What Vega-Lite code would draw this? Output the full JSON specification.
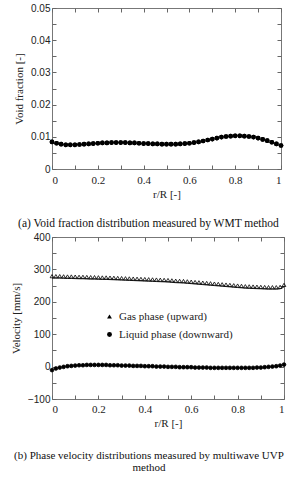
{
  "$schema": "https://vega.github.io/schema/vega-lite/v6.json",
  "padding": {"top": 2, "left": 9, "right": 5, "bottom": 2},
  "spacing": 1,
  "background": "white",
  "config": {
    "view": {"stroke": "#777", "strokeWidth": 1},
    "axis": {
      "grid": false, "domain": false, "tickColor": "#666", "tickSize": -4,
      "labelFont": "Liberation Serif", "labelFontSize": 11, "labelColor": "#222",
      "titleFont": "Liberation Serif", "titleFontSize": 11, "titleFontWeight": "normal", "titleColor": "#222"
    },
    "title": {"font": "Liberation Serif", "fontSize": 11.5, "fontWeight": "normal", "color": "#111", "orient": "bottom", "anchor": "middle", "frame": "bounds"}
  },
  "datasets": {
    "vf": [
      {"r":0,"a":0.0084},{"r":0.02,"a":0.0080},{"r":0.04,"a":0.0077},{"r":0.06,"a":0.0075},{"r":0.08,"a":0.0075},
      {"r":0.1,"a":0.0075},{"r":0.12,"a":0.0076},{"r":0.14,"a":0.0077},{"r":0.16,"a":0.0078},{"r":0.18,"a":0.0079},
      {"r":0.2,"a":0.0080},{"r":0.22,"a":0.0081},{"r":0.24,"a":0.0081},{"r":0.26,"a":0.0082},{"r":0.28,"a":0.0082},
      {"r":0.3,"a":0.0082},{"r":0.32,"a":0.0082},{"r":0.34,"a":0.0081},{"r":0.36,"a":0.0081},{"r":0.38,"a":0.0080},
      {"r":0.4,"a":0.0079},{"r":0.42,"a":0.0079},{"r":0.44,"a":0.0078},{"r":0.46,"a":0.0078},{"r":0.48,"a":0.0077},
      {"r":0.5,"a":0.0077},{"r":0.52,"a":0.0077},{"r":0.54,"a":0.0077},{"r":0.56,"a":0.0078},{"r":0.58,"a":0.0079},
      {"r":0.6,"a":0.0080},{"r":0.62,"a":0.0082},{"r":0.64,"a":0.0084},{"r":0.66,"a":0.0087},{"r":0.68,"a":0.0090},
      {"r":0.7,"a":0.0093},{"r":0.72,"a":0.0096},{"r":0.74,"a":0.0099},{"r":0.76,"a":0.0101},{"r":0.78,"a":0.0102},
      {"r":0.8,"a":0.0103},{"r":0.82,"a":0.0103},{"r":0.84,"a":0.0102},{"r":0.86,"a":0.0101},{"r":0.88,"a":0.0099},
      {"r":0.9,"a":0.0096},{"r":0.92,"a":0.0092},{"r":0.94,"a":0.0088},{"r":0.96,"a":0.0083},{"r":0.98,"a":0.0078},
      {"r":1,"a":0.0073}
    ],
    "vel": [
      {"r":0,"v":273,"p":"Gas"},{"r":0.0167,"v":273,"p":"Gas"},{"r":0.0333,"v":273,"p":"Gas"},{"r":0.05,"v":272.5,"p":"Gas"},
      {"r":0.0667,"v":272,"p":"Gas"},{"r":0.0833,"v":272,"p":"Gas"},{"r":0.1,"v":271.5,"p":"Gas"},{"r":0.1167,"v":271,"p":"Gas"},
      {"r":0.1333,"v":271,"p":"Gas"},{"r":0.15,"v":270.5,"p":"Gas"},{"r":0.1667,"v":270,"p":"Gas"},{"r":0.1833,"v":270,"p":"Gas"},
      {"r":0.2,"v":269.5,"p":"Gas"},{"r":0.2167,"v":269,"p":"Gas"},{"r":0.2333,"v":269,"p":"Gas"},{"r":0.25,"v":268.5,"p":"Gas"},
      {"r":0.2667,"v":268,"p":"Gas"},{"r":0.2833,"v":267.5,"p":"Gas"},{"r":0.3,"v":267,"p":"Gas"},{"r":0.3167,"v":266.5,"p":"Gas"},
      {"r":0.3333,"v":266,"p":"Gas"},{"r":0.35,"v":265.5,"p":"Gas"},{"r":0.3667,"v":265,"p":"Gas"},{"r":0.3833,"v":264.5,"p":"Gas"},
      {"r":0.4,"v":264,"p":"Gas"},{"r":0.4167,"v":263.5,"p":"Gas"},{"r":0.4333,"v":263,"p":"Gas"},{"r":0.45,"v":262.5,"p":"Gas"},
      {"r":0.4667,"v":262,"p":"Gas"},{"r":0.4833,"v":261.5,"p":"Gas"},{"r":0.5,"v":261,"p":"Gas"},{"r":0.5167,"v":260,"p":"Gas"},
      {"r":0.5333,"v":259,"p":"Gas"},{"r":0.55,"v":258.5,"p":"Gas"},{"r":0.5667,"v":258,"p":"Gas"},{"r":0.5833,"v":257,"p":"Gas"},
      {"r":0.6,"v":256,"p":"Gas"},{"r":0.6167,"v":255,"p":"Gas"},{"r":0.6333,"v":254,"p":"Gas"},{"r":0.65,"v":253,"p":"Gas"},
      {"r":0.6667,"v":252,"p":"Gas"},{"r":0.6833,"v":251,"p":"Gas"},{"r":0.7,"v":250,"p":"Gas"},{"r":0.7167,"v":249,"p":"Gas"},
      {"r":0.7333,"v":248,"p":"Gas"},{"r":0.75,"v":247,"p":"Gas"},{"r":0.7667,"v":246,"p":"Gas"},{"r":0.7833,"v":245,"p":"Gas"},
      {"r":0.8,"v":244,"p":"Gas"},{"r":0.8167,"v":243,"p":"Gas"},{"r":0.8333,"v":242,"p":"Gas"},{"r":0.85,"v":241.5,"p":"Gas"},
      {"r":0.8667,"v":241,"p":"Gas"},{"r":0.8833,"v":240.5,"p":"Gas"},{"r":0.9,"v":240,"p":"Gas"},{"r":0.9167,"v":239.5,"p":"Gas"},
      {"r":0.9333,"v":239,"p":"Gas"},{"r":0.95,"v":239,"p":"Gas"},{"r":0.9667,"v":239,"p":"Gas"},{"r":0.9833,"v":240,"p":"Gas"},
      {"r":1,"v":246,"p":"Gas"},
      {"r":0,"v":-17,"p":"Liquid"},{"r":0.0167,"v":-12,"p":"Liquid"},{"r":0.0333,"v":-9,"p":"Liquid"},{"r":0.05,"v":-7,"p":"Liquid"},
      {"r":0.0667,"v":-5,"p":"Liquid"},{"r":0.0833,"v":-4,"p":"Liquid"},{"r":0.1,"v":-3,"p":"Liquid"},{"r":0.1167,"v":-2,"p":"Liquid"},
      {"r":0.1333,"v":-2,"p":"Liquid"},{"r":0.15,"v":-1,"p":"Liquid"},{"r":0.1667,"v":-1,"p":"Liquid"},{"r":0.1833,"v":-1,"p":"Liquid"},
      {"r":0.2,"v":-1,"p":"Liquid"},{"r":0.2167,"v":-1,"p":"Liquid"},{"r":0.2333,"v":-1,"p":"Liquid"},{"r":0.25,"v":-2,"p":"Liquid"},
      {"r":0.2667,"v":-2,"p":"Liquid"},{"r":0.2833,"v":-2,"p":"Liquid"},{"r":0.3,"v":-3,"p":"Liquid"},{"r":0.3167,"v":-3,"p":"Liquid"},
      {"r":0.3333,"v":-3,"p":"Liquid"},{"r":0.35,"v":-4,"p":"Liquid"},{"r":0.3667,"v":-4,"p":"Liquid"},{"r":0.3833,"v":-4,"p":"Liquid"},
      {"r":0.4,"v":-5,"p":"Liquid"},{"r":0.4167,"v":-5,"p":"Liquid"},{"r":0.4333,"v":-5,"p":"Liquid"},{"r":0.45,"v":-6,"p":"Liquid"},
      {"r":0.4667,"v":-6,"p":"Liquid"},{"r":0.4833,"v":-6,"p":"Liquid"},{"r":0.5,"v":-7,"p":"Liquid"},{"r":0.5167,"v":-7,"p":"Liquid"},
      {"r":0.5333,"v":-7,"p":"Liquid"},{"r":0.55,"v":-8,"p":"Liquid"},{"r":0.5667,"v":-8,"p":"Liquid"},{"r":0.5833,"v":-8,"p":"Liquid"},
      {"r":0.6,"v":-8,"p":"Liquid"},{"r":0.6167,"v":-9,"p":"Liquid"},{"r":0.6333,"v":-9,"p":"Liquid"},{"r":0.65,"v":-9,"p":"Liquid"},
      {"r":0.6667,"v":-9,"p":"Liquid"},{"r":0.6833,"v":-10,"p":"Liquid"},{"r":0.7,"v":-10,"p":"Liquid"},{"r":0.7167,"v":-10,"p":"Liquid"},
      {"r":0.7333,"v":-10,"p":"Liquid"},{"r":0.75,"v":-10,"p":"Liquid"},{"r":0.7667,"v":-10,"p":"Liquid"},{"r":0.7833,"v":-10,"p":"Liquid"},
      {"r":0.8,"v":-10,"p":"Liquid"},{"r":0.8167,"v":-10,"p":"Liquid"},{"r":0.8333,"v":-10,"p":"Liquid"},{"r":0.85,"v":-10,"p":"Liquid"},
      {"r":0.8667,"v":-10,"p":"Liquid"},{"r":0.8833,"v":-9,"p":"Liquid"},{"r":0.9,"v":-9,"p":"Liquid"},{"r":0.9167,"v":-8,"p":"Liquid"},
      {"r":0.9333,"v":-7,"p":"Liquid"},{"r":0.95,"v":-6,"p":"Liquid"},{"r":0.9667,"v":-5,"p":"Liquid"},{"r":0.9833,"v":-3,"p":"Liquid"},
      {"r":1,"v":0,"p":"Liquid"}
    ]
  },
  "vconcat": [
    {
      "width": 229, "height": 161,
      "title": {"text": "(a) Void fraction distribution measured by WMT method", "offset": 19},
      "data": {"name": "vf"},
      "layer": [
        {
          "mark": {"type": "point", "shape": "circle", "filled": true, "color": "black", "size": 22, "opacity": 1},
          "encoding": {
            "x": {"field": "r", "type": "quantitative", "scale": {"domain": [0, 1], "nice": false},
              "axis": {"orient": "bottom", "title": "r/R [-]", "values": [0,0.1,0.2,0.3,0.4,0.5,0.6,0.7,0.8,0.9,1], "format": "~g",
                "labelExpr": "round(datum.value*10)%2==0 ? datum.label : ''", "labelPadding": 9, "titlePadding": 3}},
            "y": {"field": "a", "type": "quantitative", "scale": {"domain": [0, 0.05], "nice": false},
              "axis": {"orient": "left", "title": "Void fraction [-]", "values": [0,0.005,0.01,0.015,0.02,0.025,0.03,0.035,0.04,0.045,0.05],
                "labelExpr": "datum.value==0 ? '0' : (round(datum.value*1000)%10==0 ? format(datum.value,'.2f') : '')",
                "labelFont": "Liberation Sans", "labelFontSize": 10, "labelPadding": 6, "titlePadding": 6}}
          }
        },
        {
          "mark": {"type": "point", "shape": "circle", "filled": true, "color": "black", "size": 22, "opacity": 1},
          "encoding": {
            "x": {"field": "r", "type": "quantitative",
              "axis": {"orient": "top", "title": null, "labels": false, "values": [0,0.1,0.2,0.3,0.4,0.5,0.6,0.7,0.8,0.9,1]}},
            "y": {"field": "a", "type": "quantitative",
              "axis": {"orient": "right", "title": null, "labels": false, "values": [0,0.005,0.01,0.015,0.02,0.025,0.03,0.035,0.04,0.045,0.05]}}
          }
        }
      ],
      "resolve": {"axis": {"x": "independent", "y": "independent"}}
    },
    {
      "width": 232, "height": 162,
      "title": {"text": ["(b) Phase velocity distributions measured by multiwave UVP", "method"], "offset": 22, "fontSize": 11, "lineHeight": 11.5},
      "data": {"name": "vel"},
      "layer": [
        {
          "transform": [{"filter": "datum.p == 'Gas'"}],
          "mark": {"type": "line", "color": "#222", "strokeWidth": 1},
          "encoding": {
            "x": {"field": "r", "type": "quantitative", "scale": {"domain": [0, 1], "nice": false},
              "axis": {"orient": "bottom", "title": "r/R [-]", "values": [0,0.1,0.2,0.3,0.4,0.5,0.6,0.7,0.8,0.9,1], "format": "~g",
                "labelExpr": "round(datum.value*10)%2==0 ? datum.label : ''", "labelPadding": 8, "titlePadding": 3}},
            "y": {"field": "v", "type": "quantitative", "scale": {"domain": [-100, 400], "nice": false},
              "axis": {"orient": "left", "title": "Velocity [mm/s]", "values": [-100,-50,0,50,100,150,200,250,300,350,400], "format": "d",
                "labelExpr": "datum.value%100==0 ? datum.label : ''",
                "labelFont": "Liberation Sans", "labelFontSize": 10, "labelPadding": 6, "titlePadding": 6}}
          }
        },
        {
          "mark": {"type": "point", "filled": true, "fill": "black", "stroke": "black", "strokeWidth": 0.8, "size": 14, "opacity": 1, "yOffset": -2},
          "encoding": {
            "x": {"field": "r", "type": "quantitative",
              "axis": {"orient": "top", "title": null, "labels": false, "values": [0,0.1,0.2,0.3,0.4,0.5,0.6,0.7,0.8,0.9,1]}},
            "y": {"field": "v", "type": "quantitative",
              "axis": {"orient": "right", "title": null, "labels": false, "values": [-100,-50,0,50,100,150,200,250,300,350,400]}},
            "shape": {"field": "p", "type": "nominal", "scale": {"domain": ["Gas", "Liquid"], "range": ["triangle-up", "circle"]},
              "legend": {"orient": "none", "legendX": 52, "legendY": 303, "title": null,
                "labelExpr": "datum.label == 'Gas' ? 'Gas phase (upward)' : 'Liquid phase (downward)'",
                "labelFont": "Liberation Serif", "labelFontSize": 11, "labelColor": "#222", "symbolSize": 24, "rowPadding": 6, "labelOffset": 4,
                "symbolStrokeColor": "black", "symbolStrokeWidth": 0.6}},
            "fillOpacity": {"field": "p", "type": "nominal", "scale": {"domain": ["Gas", "Liquid"], "range": [0, 1]},
              "legend": {"orient": "none", "legendX": 52, "legendY": 303, "title": null,
                "labelExpr": "datum.label == 'Gas' ? 'Gas phase (upward)' : 'Liquid phase (downward)'",
                "labelFont": "Liberation Serif", "labelFontSize": 11, "labelColor": "#222", "symbolSize": 24, "rowPadding": 6, "labelOffset": 4,
                "symbolStrokeColor": "black", "symbolStrokeWidth": 0.6}}
          }
        }
      ],
      "resolve": {"axis": {"x": "independent", "y": "independent"}}
    }
  ]
}
